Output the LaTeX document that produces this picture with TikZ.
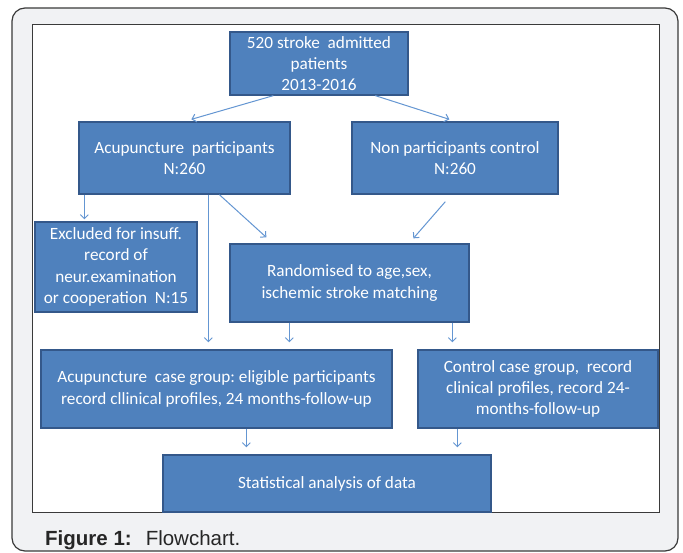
\documentclass[tikz,border=0pt]{standalone}
\usepackage{fontspec}
\setmainfont{Liberation Sans}
\newfontfamily\boxfont{Carlito}
\usetikzlibrary{arrows.meta}
\definecolor{boxfill}{HTML}{4F81BD}
\definecolor{boxline}{HTML}{34588A}
\definecolor{arrowcol}{RGB}{100,150,210}
\definecolor{panelfill}{HTML}{F1F2F4}
\definecolor{panelline}{HTML}{3A3A3A}
\definecolor{captext}{HTML}{262626}
\begin{document}
\begin{tikzpicture}[x=1pt,y=-1pt,
  flowbox/.style={draw=boxline, line width=1.3pt, fill=boxfill, text=white, inner sep=0pt, align=center, font=\boxfont\fontsize{17.2}{21.3}\selectfont},
  arr/.style={draw=arrowcol, line width=1pt, -{Straight Barb[length=4pt,width=8pt]}}]
\useasboundingbox (0,0) rectangle (683,553);
\fill[white] (0,0) rectangle (683,553);
\draw[panelline, fill=panelfill, line width=1.2pt, rounded corners=13pt] (12,8) rectangle (678,551);
\draw[panelline, fill=white, line width=1pt] (32,25) rectangle (659,512);

\node[flowbox, minimum width=178pt, minimum height=63pt] (top) at (319,63.5) {520 stroke\ \ admitted\\patients\\2013-2016};
\node[flowbox, minimum width=211pt, minimum height=72pt] (acu) at (184.5,158) {Acupuncture\ \ participants\\N:260};
\node[flowbox, minimum width=206pt, minimum height=72pt] (non) at (455,158) {Non participants control\\N:260};
\node[flowbox, minimum width=162pt, minimum height=90pt] (excl) at (116,267) {Excluded for insuff.\\record of\\neur.examination\\or cooperation\ \ N:15};
\node[flowbox, minimum width=239pt, minimum height=78pt] (rand) at (349.5,283) {Randomised to age,sex,\\ischemic stroke\ matching};
\node[flowbox, minimum width=351pt, minimum height=78pt] (acucase) at (216.5,389) {Acupuncture\ \ case group:\ eligible participants\\record cllinical profiles, 24 months-follow-up};
\node[flowbox, minimum width=240pt, minimum height=78pt] (ctrl) at (538,389) {Control case group,\ \ record\\clinical profiles, record 24-\\months-follow-up};
\node[flowbox, minimum width=328pt, minimum height=57pt] (stat) at (327,483.5) {Statistical analysis of data};

\draw[arr] ([xshift=44pt]top.south west) -- ([xshift=113pt,yshift=2pt]acu.north west);
\draw[arr] ([xshift=146pt]top.south west) -- ([xshift=98pt,yshift=2pt]non.north west);
\draw[arr] ([xshift=6pt]acu.south west) -- ([xshift=50pt,yshift=2pt]excl.north west);
\draw[arr] ([xshift=130pt]acu.south west) -- ([xshift=168pt,yshift=7pt]acucase.north west);
\draw[arr] ([xshift=141pt]acu.south west) -- ([xshift=37pt,yshift=6pt]rand.north west);
\draw[arr] ([xshift=94pt,yshift=-7pt]non.south west) -- ([xshift=184pt,yshift=5pt]rand.north west);
\draw[arr] ([xshift=60pt]rand.south west) -- ([xshift=249pt,yshift=7pt]acucase.north west);
\draw[arr] ([xshift=223pt]rand.south west) -- ([xshift=35pt,yshift=7pt]ctrl.north west);
\draw[arr] ([xshift=206pt]acucase.south west) -- ([xshift=84pt,yshift=7pt]stat.north west);
\draw[arr] ([xshift=40pt]ctrl.south west) -- ([xshift=295pt,yshift=7pt]stat.north west);

\node[anchor=base west, inner sep=0pt, text=captext, font=\fontsize{20.5}{24}\selectfont] (cap) at (45,545) {\textbf{Figure 1:}\hspace{14pt}Flowchart.};
\end{tikzpicture}
\end{document}
